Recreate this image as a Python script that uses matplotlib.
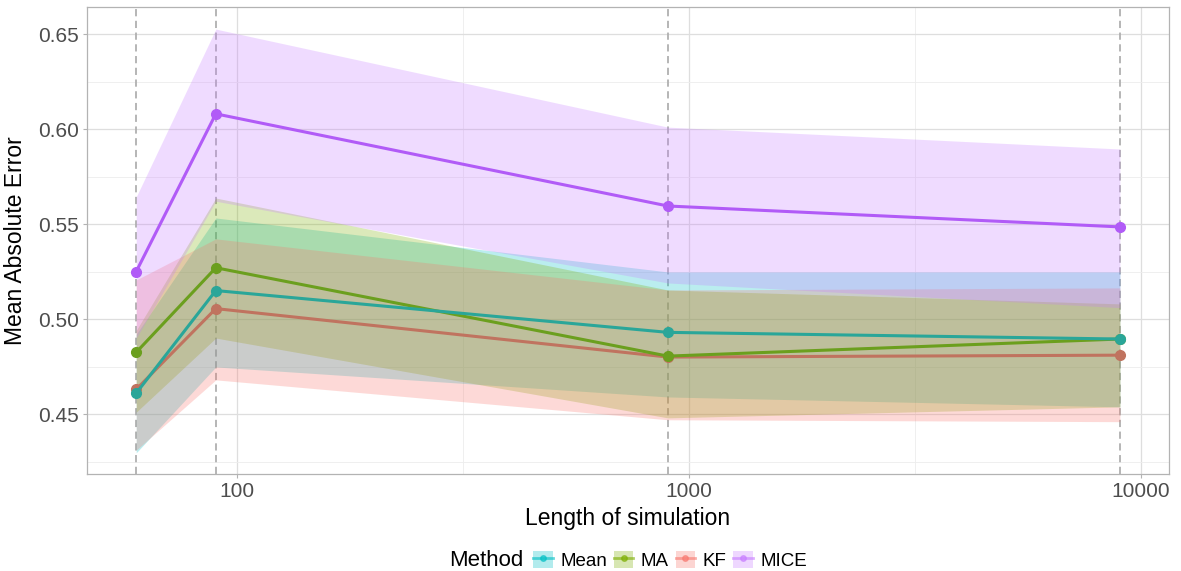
"""Mean absolute error vs simulation length, per imputation method (ggplot-like)."""
import numpy as np
import matplotlib
matplotlib.use("Agg")
import matplotlib.pyplot as plt
from matplotlib.lines import Line2D
from matplotlib.patches import Patch
from matplotlib.legend_handler import HandlerTuple
from matplotlib.ticker import FixedLocator, NullFormatter

plt.rcParams.update({"font.family": ["Liberation Sans", "DejaVu Sans"]})

# ---------------------------------------------------------------- data
lengths = [60, 90, 900, 9000]
methods = ["Mean", "MA", "KF", "MICE"]

mean_mae = [0.461, 0.515, 0.493, 0.4895]
ma_mae = [0.4825, 0.527, 0.4805, 0.4895]
kf_mae = [0.463, 0.5055, 0.480, 0.481]
mice_mae = [0.525, 0.608, 0.5595, 0.5485]

mean_lo = [0.4296, 0.4748, 0.459, 0.4538]
mean_hi = [0.492, 0.5532, 0.5248, 0.5248]
ma_lo = [0.451, 0.490, 0.448, 0.4538]
ma_hi = [0.494, 0.5637, 0.5153, 0.508]
kf_lo = [0.431, 0.468, 0.447, 0.446]
kf_hi = [0.5206, 0.5422, 0.5153, 0.5164]
mice_lo = [0.490, 0.562, 0.519, 0.506]
mice_hi = [0.5643, 0.6526, 0.601, 0.5895]

# ---------------------------------------------------------------- style
FILL = {"Mean": "#00BFC4", "MA": "#7CAE00", "KF": "#F8766D", "MICE": "#C77CFF"}
LINE = {"Mean": "#2AA699", "MA": "#6B9F1E", "KF": "#C0735F", "MICE": "#B15BF7"}

series = {
    "Mean": (mean_mae, mean_lo, mean_hi),
    "MA": (ma_mae, ma_lo, ma_hi),
    "KF": (kf_mae, kf_lo, kf_hi),
    "MICE": (mice_mae, mice_lo, mice_hi),
}

fig = plt.figure(figsize=(11.81, 5.71), dpi=100)
ax = fig.add_axes([0.0737, 0.170, 0.9162, 0.817])

ax.set_xscale("log")
x0, x1 = np.log10(lengths[0]), np.log10(lengths[-1])
pad = 0.05 * (x1 - x0)
ax.set_xlim(10 ** (x0 - pad), 10 ** (x1 + pad))
ax.set_ylim(0.4185, 0.664)

# grid (ggplot theme_light)
ax.xaxis.set_major_locator(FixedLocator([100, 1000, 10000]))
ax.xaxis.set_minor_locator(FixedLocator([10 ** 2.5, 10 ** 3.5]))
ax.xaxis.set_minor_formatter(NullFormatter())
ax.set_xticklabels(["100", "1000", "10000"])
ax.yaxis.set_major_locator(FixedLocator([0.45, 0.50, 0.55, 0.60, 0.65]))
ax.yaxis.set_minor_locator(FixedLocator([0.425, 0.475, 0.525, 0.575, 0.625]))
ax.set_yticklabels(["0.45", "0.50", "0.55", "0.60", "0.65"])
ax.grid(which="major", color="#DEDEDE", lw=0.9)
ax.grid(which="minor", color="#EDEDED", lw=0.6)
ax.set_axisbelow(True)
for sp in ax.spines.values():
    sp.set_color("#B3B3B3")
    sp.set_linewidth(0.9)
ax.tick_params(which="major", length=3, color="#B3B3B3", labelsize=15,
               labelcolor="#4D4D4D", pad=3)
ax.tick_params(which="minor", length=0)

for x in lengths:
    ax.axvline(x, color="#B0B0B0", ls=(0, (4, 2.5)), lw=1.3, zorder=1)

for name in methods:
    y, lo, hi = series[name]
    ax.fill_between(lengths, lo, hi, color=FILL[name], alpha=0.27, lw=0, zorder=2)
# teal sits on top of green/red in the original, MICE above all
for z, name in enumerate(["KF", "MA", "Mean", "MICE"]):
    y = series[name][0]
    ax.plot(lengths, y, color=LINE[name], lw=2.2, zorder=3 + z)
    ax.plot(lengths, y, "o", color=LINE[name], ms=7, zorder=3 + z)

ax.set_xlabel("Length of simulation", fontsize=16.5, labelpad=4)
ax.set_ylabel("Mean Absolute Error", fontsize=16.5, labelpad=8)

# legend at bottom, title on the left
handles = [(Patch(fc=FILL[m], alpha=0.3, ec="none"),
            Line2D([], [], color=FILL[m], alpha=0.6, lw=2, marker="o", ms=4))
           for m in methods]
LEG_Y = 0.019
fig.text(0.380, LEG_Y, "Method", fontsize=16, va="center", ha="left")
ax.legend(handles, methods, handler_map={tuple: HandlerTuple(ndivide=1)},
          loc="center left", bbox_to_anchor=(0.4512, LEG_Y), bbox_transform=fig.transFigure,
          ncol=4, frameon=False, fontsize=13.5, handlelength=1.05, handleheight=1.05,
          handletextpad=0.4, columnspacing=0.36, borderaxespad=0, borderpad=0.0)

fig.savefig("out.png", dpi=100)
